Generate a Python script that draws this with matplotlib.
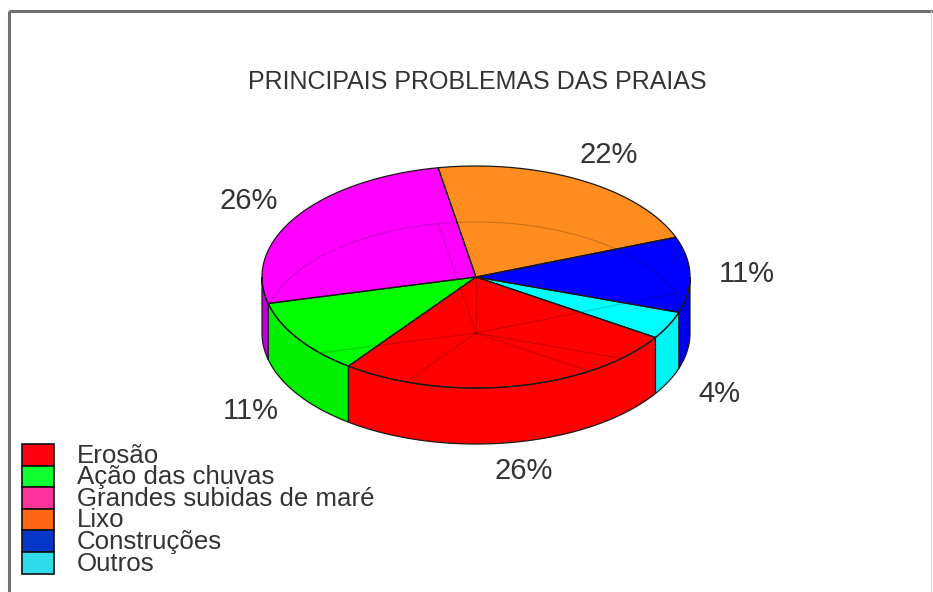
import numpy as np
import matplotlib
matplotlib.use("Agg")
import matplotlib.pyplot as plt
from matplotlib.patches import Polygon, Rectangle
from matplotlib.lines import Line2D

plt.rcParams['font.family'] = ['Liberation Sans', 'DejaVu Sans']

# ---- data ----
title = "PRINCIPAIS PROBLEMAS DAS PRAIAS"
categories = ["Erosão", "Ação das chuvas", "Grandes subidas de maré",
              "Lixo", "Construções", "Outros"]
values = [26, 11, 26, 22, 11, 4]
pie_colors = ["#FF0000", "#00FF00", "#FF00FF", "#FF8C1E", "#0000FF", "#00FFFF"]
wall_colors = ["#FF0000", "#00F000", "#C000D8", "#F08018", "#0000E8", "#00F4F4"]
legend_colors = ["#FF0010", "#10FF30", "#FF3399", "#FF6614", "#0636C8", "#30DCEA"]

# ---- geometry / style ----
W, H = 933, 592
cx, cy = 476, 277
a, b = 214, 111
depth = 56
start_angle = -33.0
edge = "#1a1a1a"
text_color = "#333333"

fig = plt.figure(figsize=(W / 100, H / 100), dpi=100)
ax = fig.add_axes([0, 0, 1, 1])
ax.set_xlim(0, W)
ax.set_ylim(H, 0)
ax.axis("off")

total = float(sum(values))
bounds = []
t = start_angle
for v in values:
    t2 = t - v / total * 360.0
    bounds.append((t, t2))  # clockwise from t to t2
    t = t2


def arc(t1, t2, dz=0.0, n=120):
    ts = np.radians(np.linspace(t1, t2, n))
    return np.column_stack([cx + a * np.cos(ts), cy - b * np.sin(ts) + dz])


def intersect(lo, hi, rlo, rhi):
    out = []
    for k in (-2, -1, 0, 1):
        l = max(lo, rlo + 360 * k)
        h = min(hi, rhi + 360 * k)
        if h > l + 1e-9:
            out.append((l, h))
    return out


# top faces
for (t1, t2), col in zip(bounds, pie_colors):
    poly = np.vstack([[cx, cy], arc(t1, t2)])
    ax.add_patch(Polygon(poly, closed=True, fc=col, ec="none", zorder=4))

# faint "see-through" structure (bottom outline, radial bottom edges, axis)
clip = Polygon(arc(0, 360), closed=True, transform=ax.transData)
ghost_lines = []
bot = arc(0, 360, depth, n=240)
ghost_lines.append(Line2D(bot[:, 0], bot[:, 1]))
ghost_lines.append(Line2D([cx, cx], [cy, cy + depth]))
for (t1, t2) in bounds:
    th = np.radians(t1)
    ghost_lines.append(Line2D([cx, cx + a * np.cos(th)],
                              [cy + depth, cy - b * np.sin(th) + depth]))
for ln in ghost_lines:
    ln.set_color("#000000")
    ln.set_alpha(0.18)
    ln.set_linewidth(0.9)
    ln.set_zorder(4.5)
    ax.add_line(ln)
    ln.set_clip_path(clip)

# top face outlines
for (t1, t2) in bounds:
    poly = np.vstack([[cx, cy], arc(t1, t2)])
    ax.add_patch(Polygon(poly, closed=True, fc="none", ec=edge, lw=0.9, zorder=6))

# front walls
for (t1, t2), col in zip(bounds, wall_colors):
    for l, h in intersect(t2, t1, -180, 0):
        top = arc(l, h)
        botarc = arc(h, l, depth)
        ax.add_patch(Polygon(np.vstack([top, botarc]), closed=True,
                             fc=col, ec=edge, lw=0.9, zorder=5))

# percentage labels
lab_r = 1.265
for (t1, t2), v in zip(bounds, values):
    mid = np.radians((t1 + t2) / 2)
    x = cx + lab_r * a * np.cos(mid)
    y = cy - lab_r * b * np.sin(mid)
    if np.sin(mid) < 0:
        y += depth
    ax.text(x, y, f"{v:.0f}%", ha="center", va="center", fontsize=21,
            color=text_color, zorder=7)

# title
ax.text(477, 82, title, ha="center", va="center", fontsize=18, color=text_color)

# legend
row_h = 21.6
y0 = 444
for i, (lab, col) in enumerate(zip(categories, legend_colors)):
    y = y0 + i * row_h
    ax.add_patch(Rectangle((22, y), 32, row_h, fc=col, ec="#111111", lw=1.2, zorder=8))
    ax.text(77, y + row_h - 3, lab, ha="left", va="baseline", fontsize=18.6,
            color=text_color, zorder=8)

# frame (top and left lines)
ax.add_line(Line2D([9, W], [11, 11], color="#707070", lw=2.2, solid_capstyle="butt"))
ax.add_line(Line2D([9, 9], [11, H], color="#707070", lw=2.2, solid_capstyle="butt"))
ax.add_line(Line2D([931, 931], [11, H], color="#d8d8d8", lw=0.8))

fig.savefig("out.png", dpi=100)
